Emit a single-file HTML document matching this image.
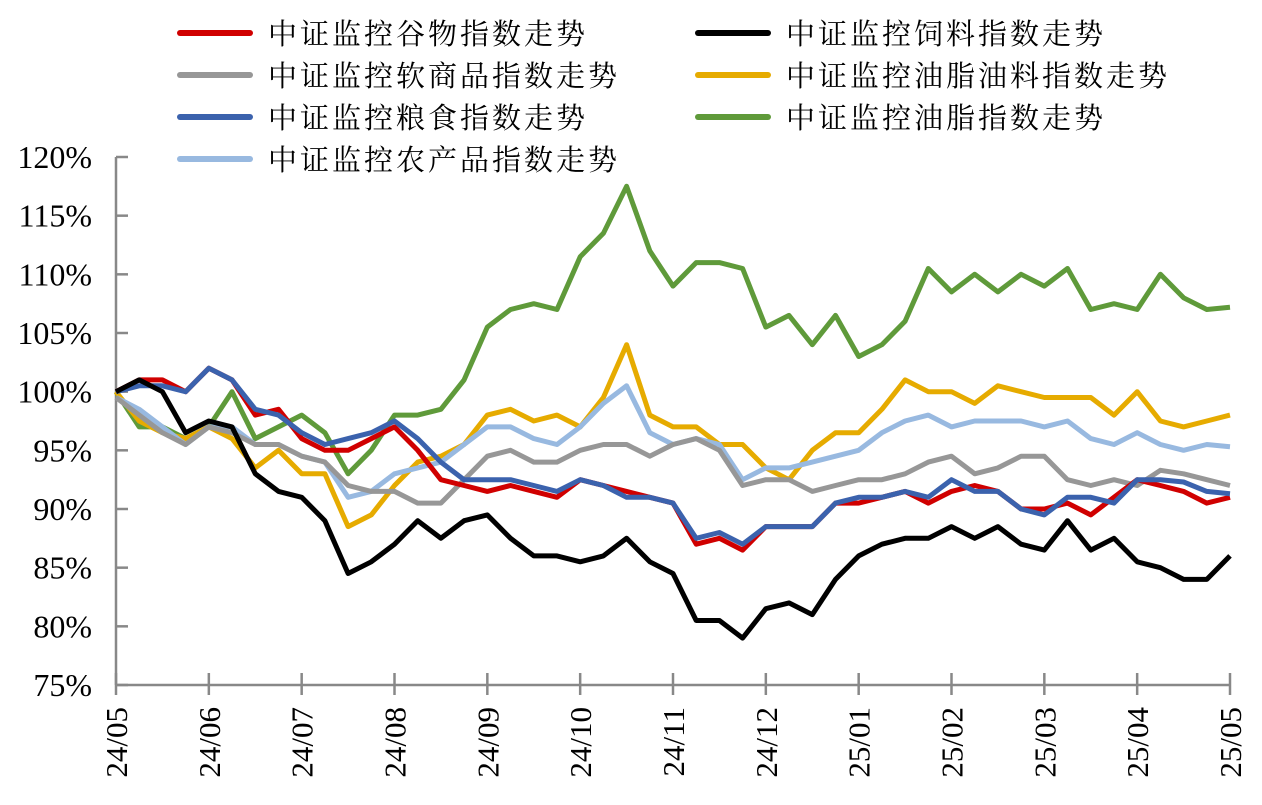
<!DOCTYPE html>
<html><head><meta charset="utf-8"><style>
body{margin:0;background:#fff;width:1262px;height:800px;overflow:hidden}
svg text{font-family:"Liberation Serif","Noto Serif CJK SC",serif;fill:#000}
</style></head><body>
<svg id="chart" width="1262" height="800" xmlns="http://www.w3.org/2000/svg"></svg>
<script>
const months = ["24/05","24/06","24/07","24/08","24/09","24/10","24/11","24/12","25/01","25/02","25/03","25/04","25/05"];
const yTicks = [75,80,85,90,95,100,105,110,115,120];
const seriesNames = ["中证监控谷物指数走势","中证监控饲料指数走势","中证监控软商品指数走势","中证监控油脂油料指数走势","中证监控粮食指数走势","中证监控油脂指数走势","中证监控农产品指数走势"];
const red = [100,101,101,100,102,101,98,98.5,96,95,95,96,97,95,92.5,92,91.5,92,91.5,91,92.5,92,91.5,91,90.5,87,87.5,86.5,88.5,88.5,88.5,90.5,90.5,91,91.5,90.5,91.5,92,91.5,90,90,90.5,89.5,91,92.5,92,91.5,90.5,91];
const black = [100,101,100,96.5,97.5,97,93,91.5,91,89,84.5,85.5,87,89,87.5,89,89.5,87.5,86,86,85.5,86,87.5,85.5,84.5,80.5,80.5,79,81.5,82,81,84,86,87,87.5,87.5,88.5,87.5,88.5,87,86.5,89,86.5,87.5,85.5,85,84,84,86];
const gray = [99.5,98,96.5,95.5,97,96.5,95.5,95.5,94.5,94,92,91.5,91.5,90.5,90.5,92.5,94.5,95,94,94,95,95.5,95.5,94.5,95.5,96,95,92,92.5,92.5,91.5,92,92.5,92.5,93,94,94.5,93,93.5,94.5,94.5,92.5,92,92.5,92,93.3,93,92.5,92];
const yellow = [100,97.5,96.5,96,97,96,93.5,95,93,93,88.5,89.5,92,94,94.5,95.5,98,98.5,97.5,98,97,99.5,104,98,97,97,95.5,95.5,93.5,92.5,95,96.5,96.5,98.5,101,100,100,99,100.5,100,99.5,99.5,99.5,98,100,97.5,97,97.5,98];
const blue = [100,100.5,100.5,100,102,101,98.5,98,96.5,95.5,96,96.5,97.5,96,94,92.5,92.5,92.5,92,91.5,92.5,92,91,91,90.5,87.5,88,87,88.5,88.5,88.5,90.5,91,91,91.5,91,92.5,91.5,91.5,90,89.5,91,91,90.5,92.5,92.5,92.3,91.5,91.3];
const green = [100,97,97,96,97,100,96,97,98,96.5,93,95,98,98,98.5,101,105.5,107,107.5,107,111.5,113.5,117.5,112,109,111,111,110.5,105.5,106.5,104,106.5,103,104,106,110.5,108.5,110,108.5,110,109,110.5,107,107.5,107,110,108,107,107.2];
const lightblue = [99.5,98.5,97,95.5,97,97,95.5,95.5,94.5,94,91,91.5,93,93.5,94,95.5,97,97,96,95.5,97,99,100.5,96.5,95.5,96,95.5,92.5,93.5,93.5,94,94.5,95,96.5,97.5,98,97,97.5,97.5,97.5,97,97.5,96,95.5,96.5,95.5,95,95.5,95.3];
const colors = ["#d00000","#000000","#979797","#e6ab00","#3b62ad","#5f9a3a","#98b9e0"];
const allSeries = [red,black,gray,yellow,blue,green,lightblue];
const drawOrder = [5,3,6,2,0,4,1];

const svg = document.getElementById('chart');
const NS = 'http://www.w3.org/2000/svg';
const X0 = 116, X1 = 1230, Y0 = 685, Y1 = 157;
const xScale = i => X0 + (X1 - X0) * i / (red.length - 1);
const xMonth = m => X0 + (X1 - X0) * m / (months.length - 1);
const yScale = v => Y0 - (v - 75) / 45 * (Y0 - Y1);
function mk(tag, attrs){const e=document.createElementNS(NS,tag);for(const k in attrs)e.setAttribute(k,attrs[k]);svg.appendChild(e);return e;}

let ax = mk('line',{x1:X0,y1:Y1,x2:X0,y2:Y0,stroke:'#888','stroke-width':2.5});


let bx = mk('line',{x1:X0,y1:Y0,x2:X1,y2:Y0,stroke:'#888','stroke-width':2.5});


yTicks.forEach(v=>{
  const y=yScale(v);
  const t=mk('line',{x1:X0,y1:y,x2:X0+12,y2:y,stroke:'#888','stroke-width':2.5});
  
  
  const l=mk('text',{x:92,y:y+11,'text-anchor':'end','font-size':32});
  l.textContent=v+'%';
  
  
});
months.forEach((m,i)=>{
  const x=xMonth(i);
  const t=mk('line',{x1:x,y1:Y0-12,x2:x,y2:Y0+10,stroke:'#888','stroke-width':2.5});
  
  
  const l=mk('text',{x:0,y:0,'text-anchor':'end','font-size':31,transform:`translate(${x+11},${Y0+22}) rotate(-90)`});
  l.textContent=m;
  
  
});
drawOrder.forEach(si=>{
  const d=allSeries[si].map((v,i)=>(i?'L':'M')+xScale(i).toFixed(1)+','+yScale(v).toFixed(1)).join(' ');
  const p=mk('path',{d:d,fill:'none',stroke:colors[si],'stroke-width':5,'stroke-linejoin':'round'});
  
  
});
const legPos=[[180,33],[698,33],[180,75],[698,75],[180,117],[698,117],[180,159]];
seriesNames.forEach((n,i)=>{
  const [x,y]=legPos[i];
  const g=mk('line',{x1:x,y1:y,x2:x+70,y2:y,stroke:colors[i],'stroke-width':6,'stroke-linecap':'round'});
  
  
  const t=mk('text',{x:x+88,y:y+11,'font-size':29,'letter-spacing':'3'});
  t.textContent=n;
  
  
});
</script>
</body></html>
